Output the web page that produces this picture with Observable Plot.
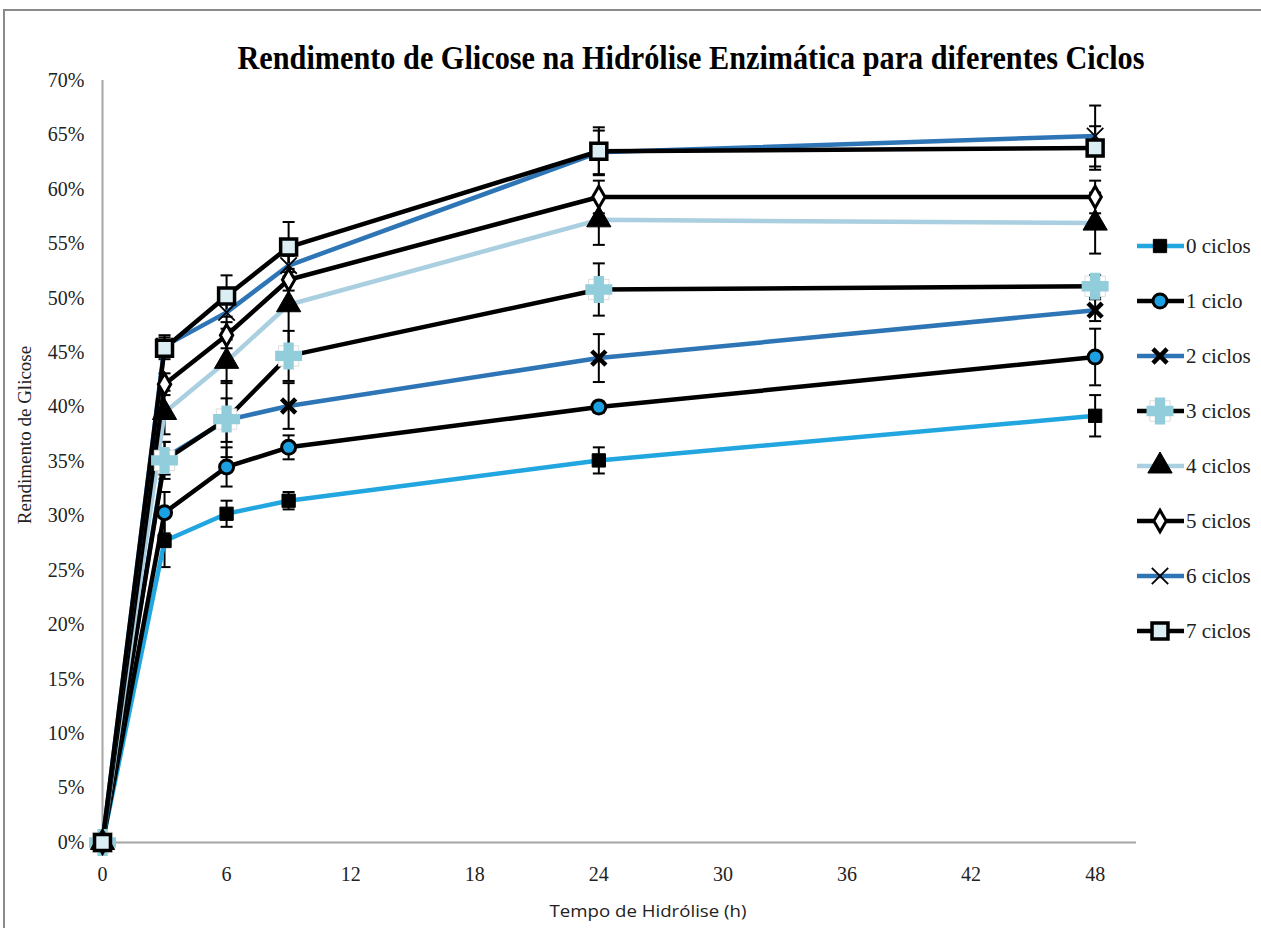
<!DOCTYPE html>
<html><head><meta charset="utf-8">
<script src="https://cdn.jsdelivr.net/npm/d3@7"></script>
<script src="https://cdn.jsdelivr.net/npm/@observablehq/plot@0.6"></script>
<style>
html,body{margin:0;padding:0;background:#fff;}
#wrap{position:relative;width:1261px;height:928px;overflow:hidden;background:#fff;}
#frame{position:absolute;left:3px;top:9px;width:1300px;height:1000px;border-left:2px solid #8a8a8a;border-top:2px solid #8a8a8a;box-sizing:border-box;}
#chart{position:absolute;left:0;top:0;}
#overlay{position:absolute;left:0;top:0;}
</style></head>
<body><div id="wrap"><div id="frame"></div><div id="chart"></div><svg id="overlay" width="1261" height="928"></svg></div>
<script>
// ---- data ----
const hours = [0, 3, 6, 9, 24, 48];
const seriesNames = ["0 ciclos", "1 ciclo", "2 ciclos", "3 ciclos", "4 ciclos", "5 ciclos", "6 ciclos", "7 ciclos"];
const c0 = [0, 27.7, 30.2, 31.4, 35.1, 39.2];
const c1 = [0, 30.3, 34.5, 36.3, 40.0, 44.6];
const c2 = [0, 35.3, 38.8, 40.1, 44.5, 48.9];
const c3 = [0, 35.1, 38.9, 44.7, 50.8, 51.1];
const c4 = [0, 39.5, 44.2, 49.4, 57.2, 56.9];
const c5 = [0, 42.1, 46.6, 51.7, 59.3, 59.3];
const c6 = [0, 45.6, 48.7, 53.0, 63.4, 64.9];
const c7 = [0, 45.4, 50.2, 54.7, 63.5, 63.8];
const e0 = [0, 2.4, 1.2, 0.8, 1.2, 1.9];
const e1 = [0, 1.9, 1.8, 1.1, 0.5, 2.6];
const e2 = [0, 1.5, 2.0, 2.1, 2.2, 1.0];
const e3 = [0, 1.7, 3.5, 2.3, 2.4, 1.0];
const e4 = [0, 2.0, 2.0, 4.5, 2.3, 2.8];
const e5 = [0, 1.0, 1.2, 1.0, 1.5, 1.5];
const e6 = [0, 1.0, 1.5, 1.0, 2.0, 2.8];
const e7 = [0, 1.0, 1.9, 2.3, 2.2, 2.0];
const yTicks = [0, 5, 10, 15, 20, 25, 30, 35, 40, 45, 50, 55, 60, 65, 70];
const xTicks = [0, 6, 12, 18, 24, 30, 36, 42, 48];

const values = [c0, c1, c2, c3, c4, c5, c6, c7];
const errors = [e0, e1, e2, e3, e4, e5, e6, e7];

// ---- styles ----
const hline = {draw(ctx, size) {const r = Math.sqrt(size / Math.PI); ctx.moveTo(-r, 0); ctx.lineTo(r, 0);}};
const styles = [
  {line: "#22a6e0", marks: [{symbol: "square", r: 7.5, fill: "#000", stroke: "#000", strokeWidth: 1}]},
  {line: "#000", marks: [{symbol: "circle", r: 7, fill: "#1ba1e2", stroke: "#000", strokeWidth: 3}]},
  {line: "#2e75b6", marks: [{symbol: "times", r: 6.5, fill: "none", stroke: "#000", strokeWidth: 4.5}]},
  {line: "#000", marks: [{symbol: "square", r: 11.5, fill: "#fff", stroke: "#dddddd", strokeWidth: 1}, {symbol: "cross", r: 10.5, fill: "#92cddc", stroke: "#92cddc", strokeWidth: 2}]},
  {line: "#a9cfe0", marks: [{symbol: "triangle", r: 9, fill: "#000", stroke: "#000", strokeWidth: 1}]},
  {line: "#000", marks: [{symbol: "diamond", r: 6.5, fill: "#fff", stroke: "#000", strokeWidth: 3}]},
  {line: "#2e75b6", marks: [{symbol: "times", r: 7.5, fill: "none", stroke: "#000", strokeWidth: 1.8}]},
  {line: "#000", marks: [{symbol: "square", r: 9, fill: "#daeef3", stroke: "#000", strokeWidth: 3.5}]}
];

const rows = [];
seriesNames.forEach((name, i) => hours.forEach((h, j) => rows.push({serie: name, idx: i, h, v: values[i][j], e: errors[i][j]})));
const errRows = rows.filter(d => d.e > 0);
const caps = errRows.flatMap(d => [{h: d.h, y: d.v - d.e}, {h: d.h, y: d.v + d.e}]);

const marks = [
  Plot.ruleX([0], {stroke: "#a6a6a6", strokeWidth: 2}),
  Plot.ruleY([0], {stroke: "#a6a6a6", strokeWidth: 2}),
  Plot.axisY(yTicks, {tickSize: 0, tickPadding: 18, tickFormat: d => d + "%", label: null, fill: "#222"}),
  Plot.axisX(xTicks, {tickSize: 0, tickPadding: 24, label: null, fill: "#222"}),
  Plot.ruleX(errRows, {x: "h", y1: d => d.v - d.e, y2: d => d.v + d.e, stroke: "#000", strokeWidth: 2}),
  Plot.dot(caps, {x: "h", y: "y", symbol: hline, r: 6, stroke: "#000", strokeWidth: 2})
];
seriesNames.forEach((name, i) => {
  marks.push(Plot.line(rows.filter(d => d.idx === i), {x: "h", y: "v", stroke: styles[i].line, strokeWidth: 4.5, strokeLinejoin: "round"}));
});
seriesNames.forEach((name, i) => {
  styles[i].marks.forEach(m => marks.push(Plot.dot(rows.filter(d => d.idx === i), {x: "h", y: "v", ...m})));
});

const chart = Plot.plot({
  width: 1261, height: 928,
  marginLeft: 102, marginRight: 125, marginTop: 80, marginBottom: 86,
  style: {fontFamily: "'Liberation Serif', 'Times New Roman', serif", fontSize: "20px", background: "transparent", overflow: "visible"},
  x: {domain: [0, 50]},
  y: {domain: [0, 70]},
  marks
});
document.getElementById("chart").appendChild(chart);

// ---- overlay: title, axis labels, legend ----
const ov = d3.select("#overlay");
ov.append("text").attr("x", 691).attr("y", 69).attr("text-anchor", "middle")
  .attr("font-family", "'Liberation Serif', serif").attr("font-weight", "bold").attr("font-size", 34)
  .attr("textLength", 907).attr("lengthAdjust", "spacingAndGlyphs").attr("fill", "#000")
  .text("Rendimento de Glicose na Hidrólise Enzimática para diferentes Ciclos");
ov.append("text").attr("transform", "translate(31,435) rotate(-90)").attr("text-anchor", "middle")
  .attr("font-family", "'Liberation Serif', serif").attr("font-size", 19).attr("fill", "#222")
  .text("Rendimento de Glicose");
ov.append("text").attr("x", 648).attr("y", 917).attr("text-anchor", "middle")
  .attr("font-family", "'Open Sans', sans-serif").attr("font-size", 17).attr("fill", "#222")
  .attr("textLength", 197).attr("lengthAdjust", "spacingAndGlyphs")
  .text("Tempo de Hidrólise (h)");

const symMap = {square: d3.symbolSquare, circle: d3.symbolCircle, times: d3.symbolTimes, cross: d3.symbolCross, triangle: d3.symbolTriangle, diamond: d3.symbolDiamond2};
seriesNames.forEach((name, i) => {
  const y = 246 + i * 55;
  const g = ov.append("g").attr("transform", `translate(0,${y})`);
  g.append("line").attr("x1", 1137).attr("x2", 1184).attr("y1", 0).attr("y2", 0)
    .attr("stroke", styles[i].line).attr("stroke-width", 4.5);
  styles[i].marks.forEach(m => {
    const sym = m.symbol === "diamond" ? d3.symbolDiamond : symMap[m.symbol];
    g.append("path").attr("transform", "translate(1160,0)")
      .attr("d", d3.symbol(sym, m.r * m.r * Math.PI)())
      .attr("fill", m.fill).attr("stroke", m.stroke).attr("stroke-width", m.strokeWidth);
  });
  g.append("text").attr("x", 1186).attr("y", 0).attr("dy", "0.35em")
    .attr("font-family", "'Liberation Serif', serif").attr("font-size", 21).attr("fill", "#222")
    .text(name);
});
</script>
</body></html>
